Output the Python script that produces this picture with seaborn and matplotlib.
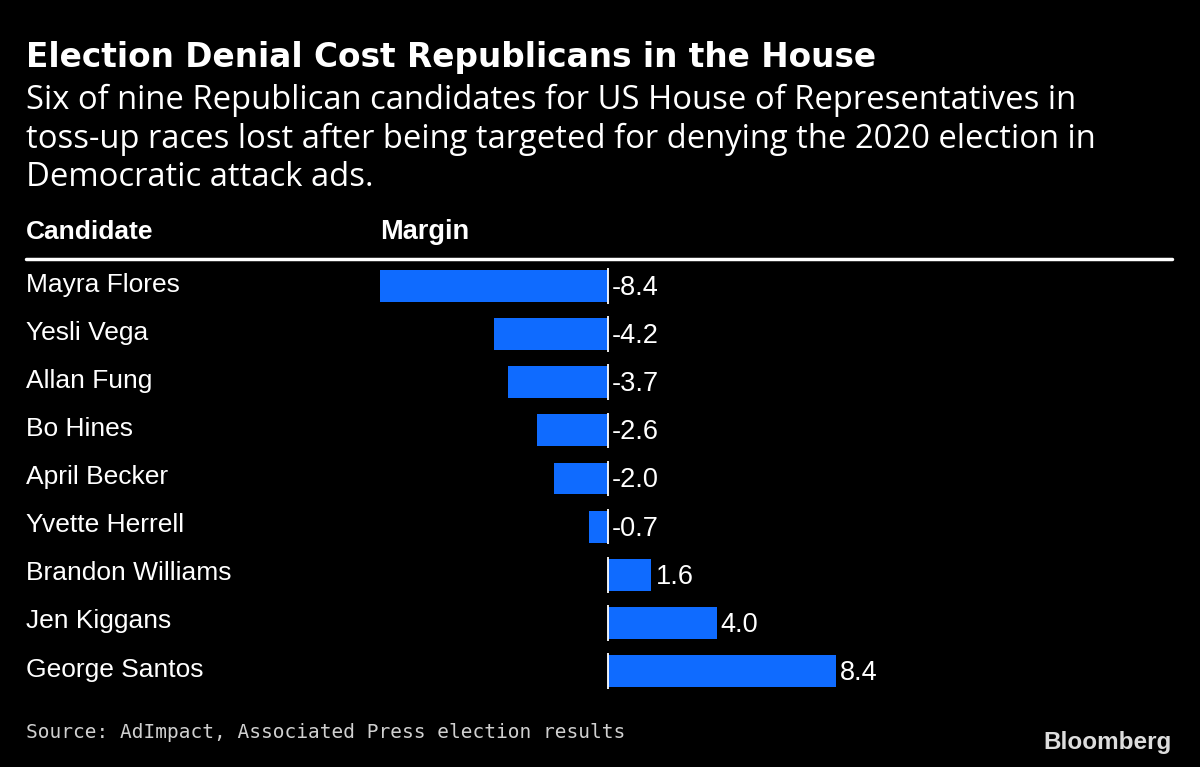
import matplotlib
matplotlib.use("Agg")
import matplotlib.pyplot as plt
import matplotlib.transforms as mtransforms
import pandas as pd
import seaborn as sns

candidates = ["Mayra Flores", "Yesli Vega", "Allan Fung", "Bo Hines", "April Becker",
              "Yvette Herrell", "Brandon Williams", "Jen Kiggans", "George Santos"]
margins = [-8.4, -4.2, -3.7, -2.6, -2.0, -0.7, 1.6, 4.0, 8.4]
value_labels = ["-8.4", "-4.2", "-3.7", "-2.6", "-2.0", "-0.7", "1.6", "4.0", "8.4"]

title = "Election Denial Cost Republicans in the House"
subtitle = ("Six of nine Republican candidates for US House of Representatives in\n"
            "toss-up races lost after being targeted for denying the 2020 election in\n"
            "Democratic attack ads.")
source = "Source: AdImpact, Associated Press election results"

df = pd.DataFrame({"Candidate": candidates, "Margin": margins})

sns.set_theme(style="dark")
plt.rcParams["font.family"] = ["Liberation Sans", "DejaVu Sans"]

bg = "black"
blue = "#0f6bff"

fig = plt.figure(figsize=(12, 7.67), dpi=100, facecolor=bg)
ax = fig.add_axes([26 / 1200, 72 / 767, 1146 / 1200, 433 / 767])
ax.set_facecolor(bg)

sns.barplot(data=df, x="Margin", y="Candidate", color=blue, width=0.665,
            saturation=1, ax=ax, orient="h", linewidth=0, edgecolor="none")

px = 1146 / (21.44 + 20.78)
ax.set_xlim(-21.44, 20.78)
ax.set_ylim(8.5, -0.5)

# zero line drawn per row
for i in range(len(candidates)):
    ax.plot([0, 0], [i - 0.37, i + 0.37], color="white", lw=1.3, solid_capstyle="butt")

# value labels
for i, (m, lab) in enumerate(zip(margins, value_labels)):
    xpos = max(m, 0) + 4 / px
    ax.text(xpos, i + 0.04, lab, color="white", fontsize=19.5, va="center", ha="left")

# candidate names
trans = mtransforms.blended_transform_factory(ax.transAxes, ax.transData)
for i, name in enumerate(candidates):
    ax.text(0.0, i - 0.03, name, transform=trans, color="white", fontsize=19,
            va="center", ha="left")

ax.set_xlabel("")
ax.set_ylabel("")
ax.set_xticks([])
ax.set_yticks([])
for s in ax.spines.values():
    s.set_visible(False)

# header
fig.text(26 / 1200, 1 - 232 / 767, "Candidate", color="white", fontsize=19,
         fontweight="bold", va="center", ha="left")
fig.text(380 / 1200, 1 - 232 / 767, "Margin", color="white", fontsize=19.5,
         fontweight="bold", va="center", ha="left")
fig.add_artist(plt.Line2D([26 / 1200, 1172 / 1200], [1 - 259 / 767, 1 - 259 / 767],
                          color="white", lw=2.5, transform=fig.transFigure))

# titles
fig.text(26 / 1200, 1 - 58 / 767, title, color="white", fontsize=23.6,
         fontweight="bold", va="center", ha="left", family="DejaVu Sans")
fig.text(26 / 1200, 1 - 84 / 767, subtitle, color="white", fontsize=23.6,
         va="top", ha="left", family="Open Sans", linespacing=1.2)

fig.text(26 / 1200, 1 - 733 / 767, source, color="#d0d0d0", fontsize=14,
         va="center", ha="left", family="DejaVu Sans Mono")
fig.text(1172 / 1200, 1 - 743 / 767, "Bloomberg", color="#dddddd", fontsize=17.5,
         fontweight="bold", va="center", ha="right")

fig.savefig("out.png", dpi=100, facecolor=bg)
